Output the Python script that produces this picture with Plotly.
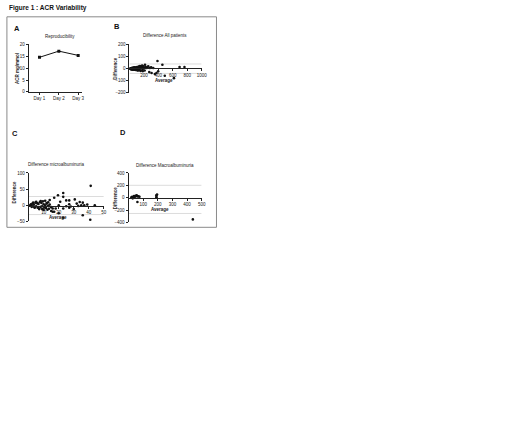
import plotly.graph_objects as go

W, H = 520, 422

# ---------------- data ----------------
days = ["Day 1", "Day 2", "Day 3"]
acr_values = [14.6, 17.2, 15.4]

all_avg = [5, 10, 15, 20, 25, 30, 35, 40, 45, 50, 55, 60, 70, 80, 90, 100, 110, 120, 130, 140,
           150, 160, 170, 180, 190, 200, 8, 12, 18, 22, 28, 33, 38, 42, 48, 65, 75, 85, 95, 105,
           115, 125, 135, 145, 155, 165, 175, 185, 195, 215, 192, 238, 283, 329, 274, 306, 388,
           456, 694, 762, 616, 489, 374, 352, 397, 250, 225, 300, 210, 260]
all_diff = [0, 2, -3, 4, -5, 3, -2, 6, -6, 5, -4, 8, -8, 10, -10, 12, 6, -12, 15, 18,
            -15, 10, 20, -8, 14, 4, -1, 1, -2, 3, -4, 5, -6, 7, -9, 11, -7, 9, -11, 13,
            -14, 16, -5, 22, -18, 8, 25, -20, 12, 33, 19, 6, 6, 6, -28, -36, 64,
            33, 14, 14, -78, -58, -36, -44, -22, 10, 15, 12, -15, 20]

micro_avg = [1, 1.5, 2, 2.5, 3, 3.5, 4, 4.5, 5, 5.5, 6, 6.5, 7, 7.5, 8, 8.5, 9, 9.5, 10, 10.5,
             11, 11.5, 12, 12.5, 13, 13.5, 14, 15, 2, 3, 4, 5, 6, 7, 8, 9, 10, 11, 12, 13,
             17, 19.5, 23, 23, 21, 25, 27, 30.7, 32, 34, 36, 37, 35, 27, 20, 16, 18, 16, 17, 23,
             27, 28, 36, 23, 41.3, 41, 20, 44, 30, 39, 14, 15, 25, 33]
micro_diff = [0, 3, -2, 5, -4, 2, -6, 8, -3, 6, -8, 4, -10, 10, -5, 7, -12, 12, 3, -7,
              14, -9, 5, -14, 9, -11, 2, -6, -5, 8, -8, 11, 6, -12, 13, -3, -15, 0, 7, -2,
              23, 31, 38, 26, 11, 15, 15, 18, 5, 10, 8, 0, 0, 3, 0, -10, -10, -20, -20, -10,
              -8, -4, -31, -39, 60, -45, -25, 0, -12, 2, 16, -18, -3, -2]

macro_avg = [20, 25, 29, 34, 38, 42, 45, 50, 56, 60, 68, 75, 191, 191, 191, 195, 61, 440]
macro_diff = [5, 15, -11, 0, 25, 10, 21, 30, 37, 20, 21, 15, 37, 0, 10, 50, -70, -352]

# limits of agreement
loa_all = [39, -39]
loa_micro = [27, -29]
loa_macro = [200, -256]

# ---------------- helpers ----------------
def px(x):
    return x / W

def py(y):
    return 1 - y / H

FONT = "Liberation Sans, Arial, sans-serif"
TICKFONT = dict(family=FONT, size=4.5, color="#222")

def axis_common():
    return dict(showline=True, linecolor="#222", linewidth=1, ticks="outside", ticklen=2,
                tickwidth=1, tickcolor="#222", showgrid=False, zeroline=False,
                tickfont=TICKFONT, fixedrange=True)

fig = go.Figure()

fig.add_trace(go.Scatter(x=days, y=acr_values, mode="lines+markers",
                         line=dict(color="#111", width=1),
                         marker=dict(symbol="square", size=3, color="#111"),
                         xaxis="x", yaxis="y", showlegend=False))
dot = dict(symbol="circle", size=2.6, color="#111")
fig.add_trace(go.Scatter(x=all_avg, y=all_diff, mode="markers", marker=dot,
                         xaxis="x2", yaxis="y2", showlegend=False))
fig.add_trace(go.Scatter(x=micro_avg, y=micro_diff, mode="markers", marker=dot,
                         xaxis="x3", yaxis="y3", showlegend=False))
fig.add_trace(go.Scatter(x=macro_avg, y=macro_diff, mode="markers", marker=dot,
                         xaxis="x4", yaxis="y4", showlegend=False))

layout = dict(
    width=W, height=H, margin=dict(l=0, r=0, t=0, b=0),
    paper_bgcolor="white", plot_bgcolor="rgba(0,0,0,0)",
    showlegend=False,
)

layout["xaxis"] = dict(axis_common(), domain=[px(29), px(83)], anchor="y",
                       type="category", range=[-0.56, 2.2])
layout["yaxis"] = dict(axis_common(), domain=[py(91), py(43)], anchor="x",
                       range=[0, 20], tickvals=[0, 5, 10, 15, 20])
layout["xaxis2"] = dict(axis_common(), domain=[px(131), px(204)], anchor="free",
                        position=py(67), range=[0, 1000],
                        tickvals=[200, 400, 600, 800, 1000])
layout["yaxis2"] = dict(axis_common(), domain=[py(92), py(43)], anchor="x2",
                        range=[-200, 200], tickvals=[-200, -100, 0, 100, 200])
layout["xaxis3"] = dict(axis_common(), domain=[px(29), px(105)], anchor="free",
                        position=py(206), range=[0, 50],
                        tickvals=[10, 20, 30, 40, 50])
layout["yaxis3"] = dict(axis_common(), domain=[py(222), py(173)], anchor="x3",
                        range=[-50, 100], tickvals=[-50, 0, 50, 100])
layout["xaxis4"] = dict(axis_common(), domain=[px(130), px(204)], anchor="free",
                        position=py(198), range=[0, 500],
                        tickvals=[100, 200, 300, 400, 500])
layout["yaxis4"] = dict(axis_common(), domain=[py(223), py(173)], anchor="x4",
                        range=[-400, 400], tickvals=[-400, -200, 0, 200, 400])

fig.update_layout(**layout)

shapes = [dict(type="rect", xref="paper", yref="paper", x0=px(7), x1=px(219),
               y0=py(228), y1=py(15), line=dict(color="#8a8a8a", width=1))]
for ax, xr, vals in [("2", 1000, loa_all), ("3", 50, loa_micro), ("4", 500, loa_macro)]:
    for v in vals:
        shapes.append(dict(type="line", xref="x" + ax, yref="y" + ax, x0=0, x1=xr,
                           y0=v, y1=v, line=dict(color="#dcdcdc", width=1),
                           layer="below"))
fig.update_layout(shapes=shapes)

def ann(text, x, y, size=4.5, bold=False, angle=0, xanchor="center", color="#222"):
    t = f"<b>{text}</b>" if bold else text
    fig.add_annotation(text=t, x=px(x), y=py(y), xref="paper", yref="paper",
                       showarrow=False, textangle=angle, xanchor=xanchor, yanchor="middle",
                       font=dict(family=FONT, size=size, color=color))

ann("Figure 1 : ACR Variability", 7, 6, size=6.5, bold=True, xanchor="left", color="#111")
ann("A", 17, 27, size=7.5, bold=True, color="#111")
ann("B", 118, 25, size=7.5, bold=True, color="#111")
ann("C", 15, 133, size=7.5, bold=True, color="#111")
ann("D", 124, 132, size=7.5, bold=True, color="#111")

ann("Reproducibility", 61, 35)
ann("Difference All patients", 167, 34)
ann("Difference microalbuminuria", 57, 164)
ann("Difference Macroalbuminuria", 167, 165)

ann("ACR mg/mmol", 17, 67, angle=-90, bold=True)
ann("Difference", 117, 67, angle=-90, bold=True)
ann("Difference", 15, 192, angle=-90, bold=True)
ann("Difference", 117, 198, angle=-90, bold=True)

ann("Average", 166, 79, bold=True)
ann("Average", 59, 218, bold=True)
ann("Average", 162, 210, bold=True)

fig.write_html("out.html", config={"displayModeBar": False},
               post_script="document.body.style.margin='0';document.body.style.padding='0';")
